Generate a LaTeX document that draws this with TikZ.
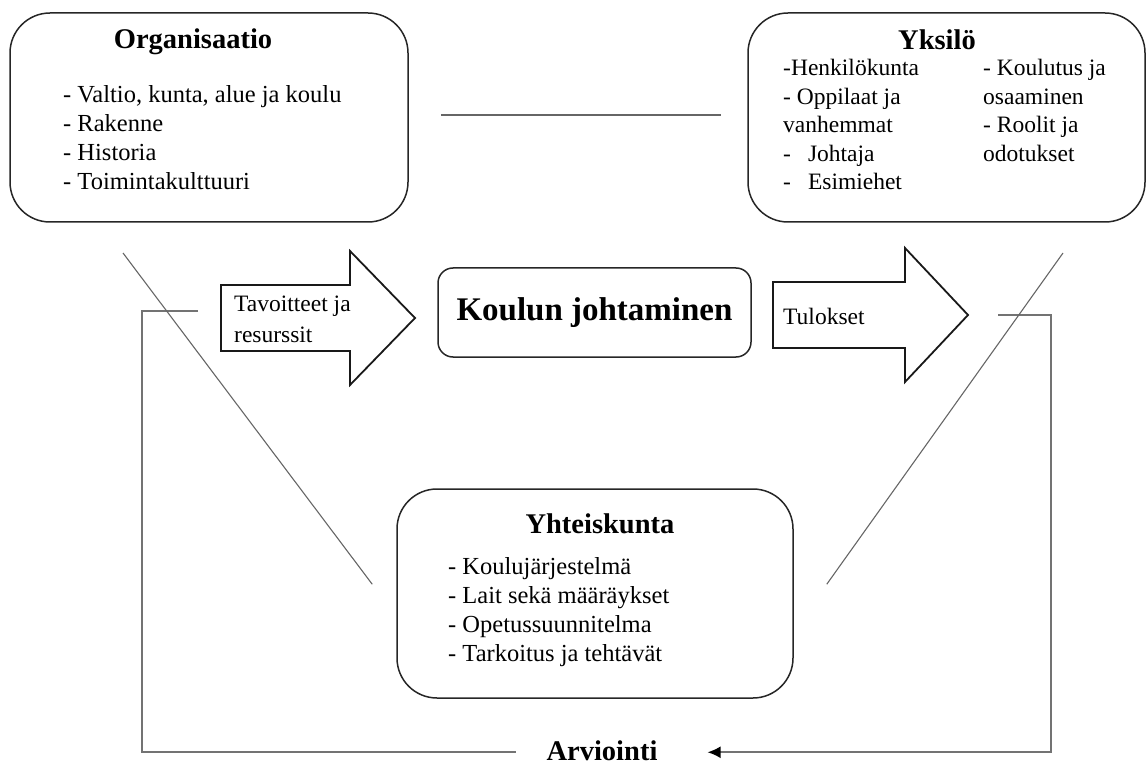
\documentclass[tikz,border=0pt]{standalone}
\usepackage{fontspec}
\setmainfont{Liberation Serif}
\usetikzlibrary{arrows.meta,positioning}
\tikzstyle{block} = [rectangle, draw=black!85, line width=1.5pt,
	rounded corners=40pt, inner sep=0pt]
\tikzstyle{title} = [font=\fontsize{28.5}{34}\selectfont\bfseries,
	inner sep=0pt, anchor=base]
\tikzstyle{items} = [font=\fontsize{24.5}{29}\selectfont, align=left,
	inner sep=0pt, anchor=north west]
\tikzstyle{fat} = [draw=black!90, line width=1.8pt, line join=miter]
\tikzstyle{line} = [draw=black!55, line width=1.6pt]
\tikzstyle{thin} = [draw=black!60, line width=1.1pt]

\begin{document}
\begin{tikzpicture}[x=1pt, y=-1pt]
	\useasboundingbox (0,0) rectangle (1148,767);
	% Place nodes
	\node [block, minimum width=398pt, minimum height=209pt] (organisaatio) at (209,117.5) {};
	\node [block, minimum width=397pt, minimum height=209pt] (yksilo) at (946.5,117.5) {};
	\node [block, minimum width=396pt, minimum height=209pt] (yhteiskunta) at (595,593.5) {};
	\node [block, rounded corners=15pt, minimum width=313pt, minimum height=89pt,
		font=\fontsize{33}{40}\selectfont\bfseries] (johtaminen) at (594.5,312.5) {Koulun johtaminen};
	\node [title] (orgtitle) at (193,49) {Organisaatio};
	\node [items] (orgitems) at (63,85) {- Valtio, kunta, alue ja koulu\\- Rakenne\\- Historia\\- Toimintakulttuuri};
	\node [title] (ykstitle) at (937,50) {Yksilö};
	\node [items, font=\fontsize{23.5}{28.5}\selectfont] (yksleft) at (783,59)
		{-Henkilökunta\\- Oppilaat ja\\vanhemmat\\-\hspace{17pt}Johtaja\\-\hspace{17pt}Esimiehet};
	\node [items, font=\fontsize{23.5}{28.5}\selectfont] (yksright) at (983,59)
		{- Koulutus ja\\osaaminen\\- Roolit ja\\odotukset};
	\node [title] (yhttitle) at (600,533) {Yhteiskunta};
	\node [items] (yhtitems) at (448,557) {- Koulujärjestelmä\\- Lait sekä määräykset\\- Opetussuunnitelma\\- Tarkoitus ja tehtävät};
	\node [title] (arviointi) at (602,760) {Arviointi};
	% Big arrows
	\draw [fat] (221,285) -- (350,285) -- (350,251) -- (415,318) -- (350,385) -- (350,351) -- (221,351) -- cycle;
	\draw [fat] (773,282) -- (905,282) -- (905,248) -- (968,315) -- (905,382) -- (905,348) -- (773,348) -- cycle;
	\node [items, anchor=west, font=\fontsize{23.5}{31}\selectfont] (tavoitteet) at (234,319) {Tavoitteet ja\\resurssit};
	\node [items, anchor=west, font=\fontsize{23.5}{28}\selectfont] (tulokset) at (783,316) {Tulokset};
	% Draw edges
	\coordinate (leftstart) at (198,311);
	\coordinate (leftcorner) at (142,311);
	\coordinate (rightstart) at (998,315);
	\coordinate (rightcorner) at (1051,315);
	\draw [line] (leftstart) -- (leftcorner) |- ([xshift=-30pt,yshift=-2pt]arviointi.west);
	\draw [line, -{Latex[length=13pt,width=12pt,black]}] (rightstart) -- (rightcorner) |- ([xshift=50pt,yshift=-2pt]arviointi.east);
	\draw [thin] ([xshift=32pt,yshift=2.5pt]organisaatio.east) -- ([xshift=-26pt,yshift=2.5pt]yksilo.west);
	\coordinate (orgdiag) at (123,253);
	\coordinate (yksdiag) at (1063,253);
	\draw [thin] (orgdiag) -- ([xshift=-24pt,yshift=-96pt]yhteiskunta.north west);
	\draw [thin] (yksdiag) -- ([xshift=33pt,yshift=-96pt]yhteiskunta.north east);
\end{tikzpicture}
\end{document}
